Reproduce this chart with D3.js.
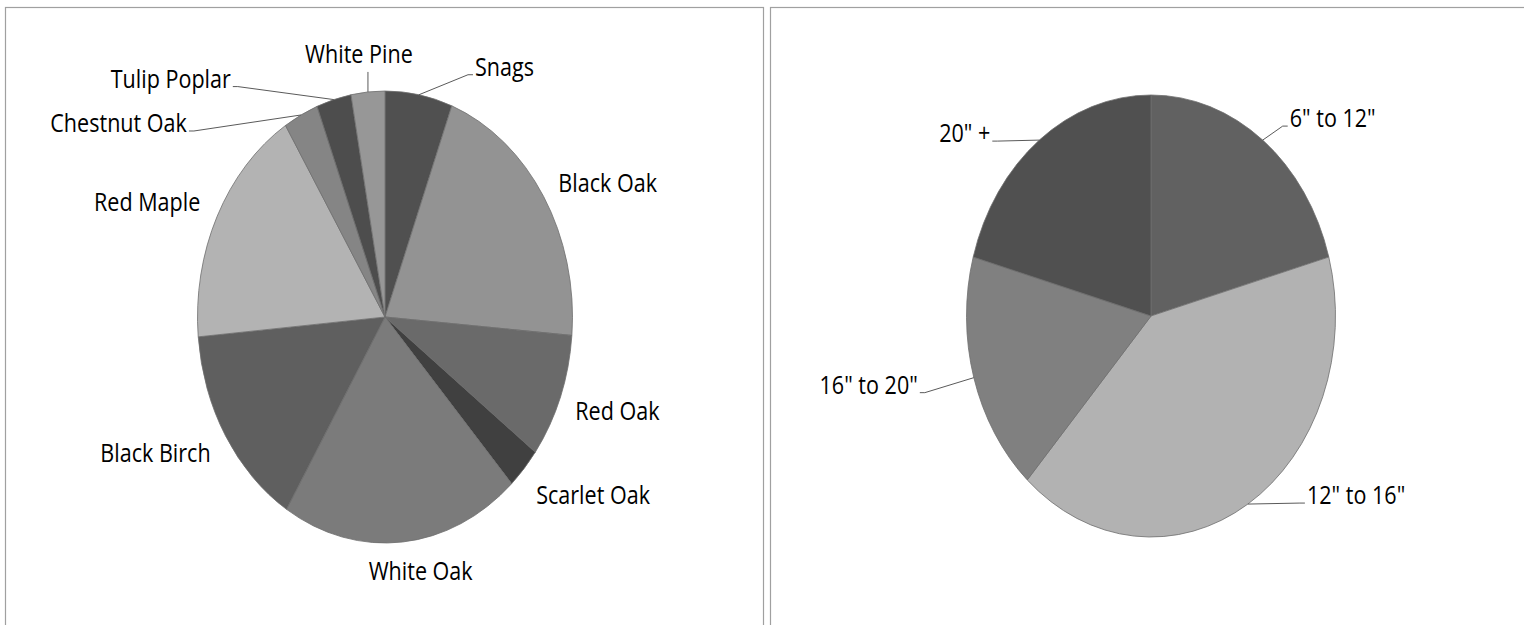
<!DOCTYPE html>
<html lang="en">
<head>
    <meta charset="UTF-8">
    <title>Tree species and size classes</title>
    <script src="https://d3js.org/d3.v7.min.js"></script>
    <style>
        body, html {
            margin: 0;
            background-color: white;
        }

        .label {
            font-family: 'Open Sans', sans-serif;
            font-size: 22px;
            fill: black;
        }

        .leader {
            fill: none;
            stroke: #5a5a5a;
            stroke-width: 1;
        }

        .panel {
            fill: none;
            stroke: #a0a0a0;
            stroke-width: 1.2;
        }
    </style>
</head>
<body>
    <script>
        'use strict'

        //species share (left pie), clockwise from 12 o'clock
        const speciesNames = ['Snags', 'Black Oak', 'Red Oak', 'Scarlet Oak', 'White Oak',
            'Black Birch', 'Red Maple', 'Chestnut Oak', 'Tulip Poplar', 'White Pine']
        const speciesValues = [5.8, 20.5, 8.9, 3.0, 20.6, 14.8, 17.5, 3.0, 3.0, 2.9]

        //diameter classes (right pie)
        const sizeNames = ['6" to 12"', '12" to 16"', '16" to 20"', '20" +']
        const sizeValues = [20.7, 41, 17.6, 20.7]

        //styles
        const speciesColors = ['#505050', '#939393', '#6a6a6a', '#404040', '#7b7b7b',
            '#5f5f5f', '#b3b3b3', '#858585', '#4d4d4d', '#979797']
        const sizeColors = ['#616161', '#b2b2b2', '#808080', '#505050']

        //label offsets from the slice's outer edge point, plus leader style
        const speciesLabels = {
            'Snags':        {dx: 56,   dy: -19, anchor: 'start',  leader: 'side'},
            'Black Oak':    {dx: 64,   dy: -5,  anchor: 'middle', leader: null},
            'Red Oak':      {dx: 57,   dy: 23,  anchor: 'middle', leader: null},
            'Scarlet Oak':  {dx: 69,   dy: 35,  anchor: 'middle', leader: null},
            'White Oak':    {dx: 18,   dy: 38,  anchor: 'middle', leader: null},
            'Black Birch':  {dx: -70,  dy: 26,  anchor: 'middle', leader: null},
            'Red Maple':    {dx: -70,  dy: -5,  anchor: 'middle', leader: null},
            'Chestnut Oak': {dx: -114, dy: 17,  anchor: 'end',    leader: 'side'},
            'Tulip Poplar': {dx: -103, dy: -12, anchor: 'end',    leader: 'side'},
            'White Pine':   {dx: -9,   dy: -29, anchor: 'middle', leader: 'below'}
        }
        const sizeLabels = {
            '6" to 12"':  {dx: 27,  dy: -13, anchor: 'start', leader: 'side'},
            '12" to 16"': {dx: 59,  dy: 0,   anchor: 'start', leader: 'side'},
            '16" to 20"': {dx: -56, dy: 16,  anchor: 'end',   leader: 'side'},
            '20" +':      {dx: -49, dy: 2,   anchor: 'end',   leader: 'side'}
        }

        const width = 1524
        const height = 625

        const svg = d3.select('body')
            .append('svg')
            .attr('width', width)
            .attr('height', height)

        //chart frames
        svg.append('rect')
            .attr('class', 'panel')
            .attr('x', 5.5)
            .attr('y', 7.5)
            .attr('width', 758)
            .attr('height', 640)

        svg.append('rect')
            .attr('class', 'panel')
            .attr('x', 770.5)
            .attr('y', 7.5)
            .attr('width', 780)
            .attr('height', 640)

        function drawPie(names, values, colors, labels, cx, cy, rx, ry) {
            const data = names.map((n, i) => ({name: n, value: values[i], color: colors[i]}))

            const pie = d3.pie()
                .sort(null)
                .value(d => d.value)

            const arcs = pie(data)

            const arc = d3.arc()
                .innerRadius(0)
                .outerRadius(rx)

            const g = svg.append('g')
                .attr('transform', `translate(${cx}, ${cy})`)

            //pie drawn as a circle then stretched into an ellipse
            g.append('g')
                .attr('transform', `scale(1, ${ry / rx})`)
                .selectAll('path')
                .data(arcs)
                .enter()
                .append('path')
                .attr('d', arc)
                .attr('fill', d => d.data.color)
                .attr('stroke', '#6e6e6e')
                .attr('stroke-width', 0.8)
                .attr('vector-effect', 'non-scaling-stroke')

            const edgePoint = d => {
                const a = (d.startAngle + d.endAngle) / 2
                return [cx + rx * Math.sin(a), cy - ry * Math.cos(a)]
            }

            arcs.forEach(d => {
                const lab = labels[d.data.name]
                const [ex, ey] = edgePoint(d)
                const tx = ex + lab.dx
                const ty = ey + lab.dy

                if (lab.leader === 'side') {
                    const dir = lab.anchor === 'start' ? -1 : 1
                    const pts = [[ex, ey], [tx + dir * 7, ty - 1], [tx + dir * 2, ty - 1]]
                    svg.append('path')
                        .attr('class', 'leader')
                        .attr('d', d3.line()(pts))
                }
                if (lab.leader === 'below') {
                    svg.append('path')
                        .attr('class', 'leader')
                        .attr('d', d3.line()([[ex, ey], [ex, ty + 9]]))
                }

                svg.append('g')
                    .attr('transform', `translate(${tx}, ${ty}) scale(0.98, 1.15)`)
                    .append('text')
                    .attr('class', 'label')
                    .attr('text-anchor', lab.anchor)
                    .text(d.data.name)
            })
        }

        drawPie(speciesNames, speciesValues, speciesColors, speciesLabels, 385, 317, 187.5, 226)
        drawPie(sizeNames, sizeValues, sizeColors, sizeLabels, 1151, 316, 184.5, 221)
    </script>
</body>
</html>
